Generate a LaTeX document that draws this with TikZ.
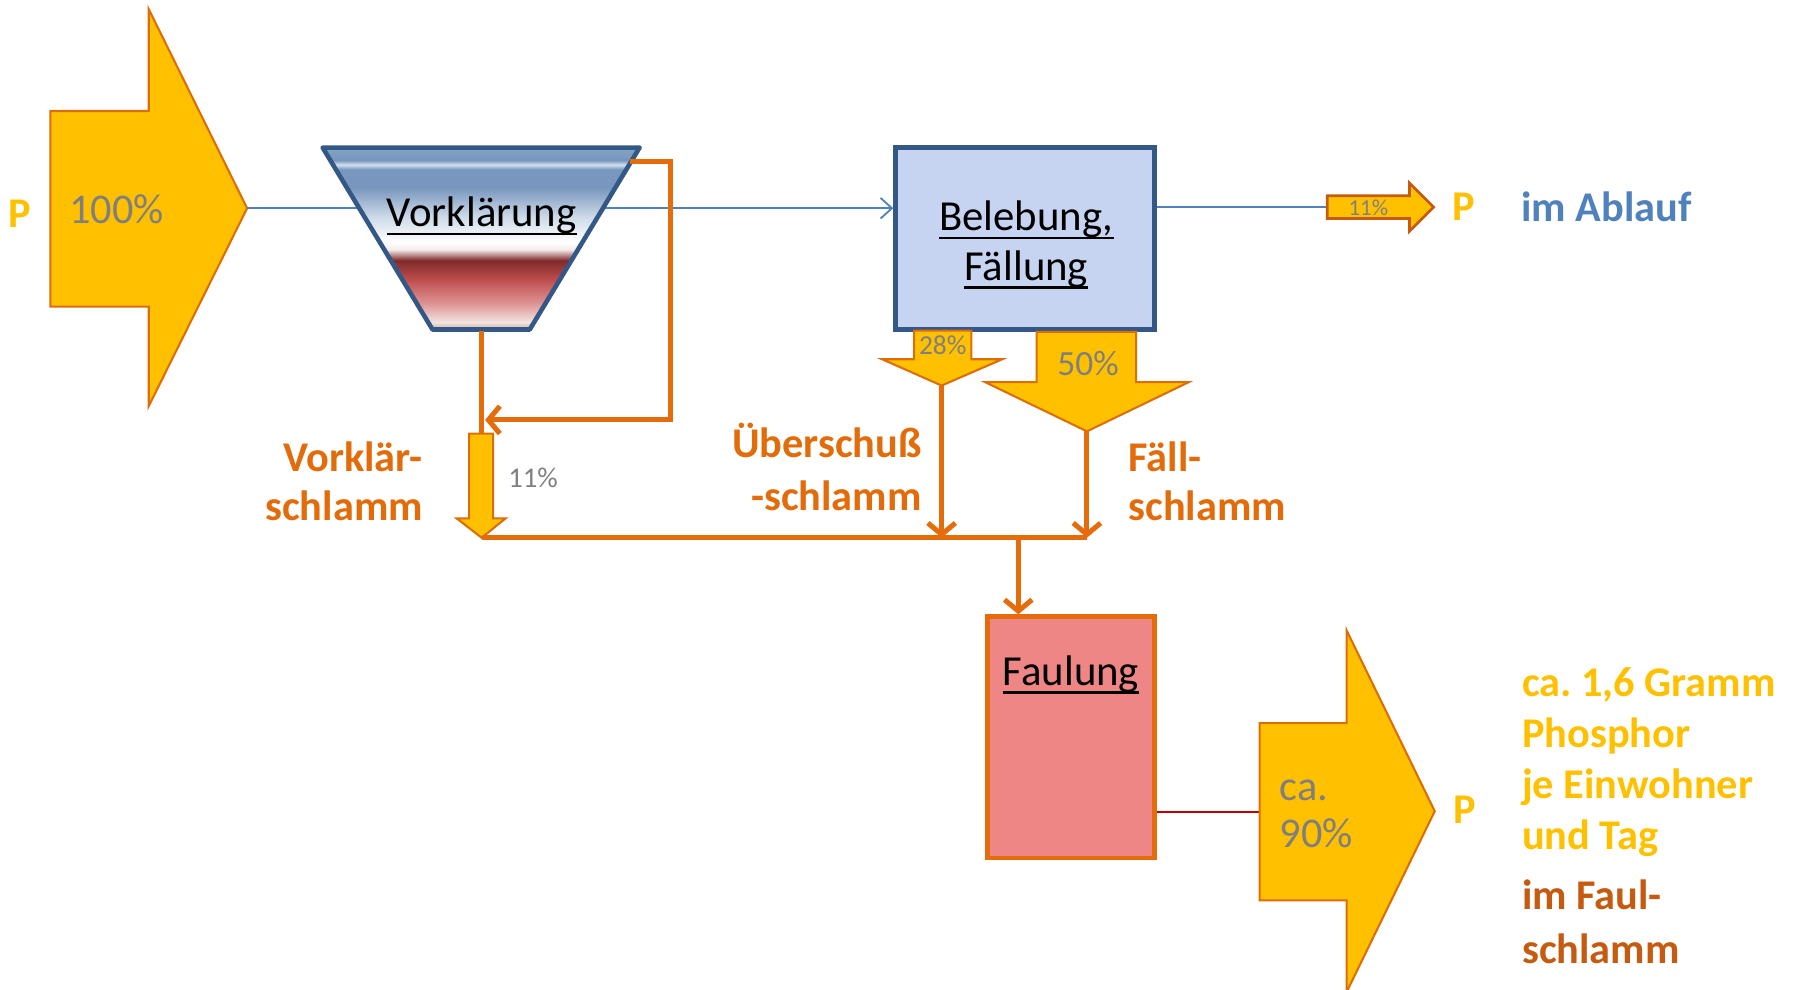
\documentclass[tikz,border=0pt]{standalone}
\usepackage{fontspec}
\setmainfont{Carlito}
\usetikzlibrary{positioning,arrows.meta}
\frenchspacing

\definecolor{pgold}{RGB}{255,192,0}
\definecolor{porange}{RGB}{228,108,10}
\definecolor{plabel}{RGB}{226,107,10}
\definecolor{pdark}{RGB}{197,90,17}
\definecolor{pgray}{RGB}{127,127,127}
\definecolor{pblue}{RGB}{79,129,189}
\definecolor{pframe}{RGB}{52,88,134}
\definecolor{pbele}{RGB}{198,212,242}
\definecolor{pfaul}{RGB}{238,134,134}
\definecolor{pred}{RGB}{192,0,0}
\definecolor{pedge}{RGB}{220,110,10}
% Farben fuer das Vorklaerbecken
\definecolor{kA}{RGB}{200,170,160}
\definecolor{kB}{RGB}{242,228,224}
\definecolor{kC}{RGB}{222,150,150}
\definecolor{kD}{RGB}{192,80,80}
\definecolor{kE}{RGB}{128,42,42}
\definecolor{kF}{RGB}{245,236,236}
\definecolor{kG}{RGB}{205,218,232}
\definecolor{kH}{RGB}{120,150,190}
\definecolor{kI}{RGB}{210,225,240}
\definecolor{kJ}{RGB}{130,165,195}

\pgfdeclareverticalshading{klaer}{100bp}{color(0bp)=(kA); color(25bp)=(kA);
  color(27bp)=(kB); color(32bp)=(kC); color(38.5bp)=(kD); color(44bp)=(kE);
  color(47bp)=(kF); color(49bp)=(white); color(56bp)=(kG); color(64bp)=(kH);
  color(69bp)=(kH); color(70.3bp)=(kI); color(71.5bp)=(kH); color(75bp)=(kJ);
  color(100bp)=(kJ)}

\newcommand{\ulword}[1]{\setbox0\hbox{#1}\rlap{\rule[-3.7pt]{\wd0}{1.2pt}}\box0}

\begin{document}
\begin{tikzpicture}[x=0.5pt,y=-0.5pt,
    blockarrow/.style={fill=pgold,draw=pedge,line width=0.9pt,line join=miter},
    water/.style={draw=pblue,line width=0.8pt},
    sludge/.style={draw=porange,line width=2.2pt},
    sludgetip/.style={sludge,-{Straight Barb[length=5pt,width=12pt]}},
    pct/.style={text=pgray,inner sep=0pt},
    ptag/.style={text=pgold,font=\bfseries\fontsize{18.5}{18.5}\selectfont,inner sep=0pt},
    orlabel/.style={text=plabel,font=\bfseries\fontsize{18.5}{21.5}\selectfont,inner sep=0pt},
    title/.style={font=\fontsize{18.7}{21.5}\selectfont,inner sep=0pt}]

    \useasboundingbox (0,0) rectangle (1568,865);

    % Zulauf
    \path[blockarrow] (44,97) -- (130,97) -- (130,8) -- (216,182) -- (130,355) -- (130,268) -- (44,268) -- cycle;
    \coordinate (zulauf) at (216,182);
    \node[pct,font=\fontsize{18.5}{18.5}\selectfont] (pzu) at (102,183) {100\%};
    \node[ptag] (pin) at (17,187) {P};

    % Belebung
    \node[draw=pframe,fill=pbele,line width=2.2pt,minimum width=113pt,minimum height=79.5pt] (bel) at (896,208.5) {};
    \node[title,align=center] (beltxt) at (897,214) {\ulword{Belebung,}\\\ulword{Fällung}};
    \draw[water,-{Straight Barb[length=5pt,width=9pt]}] (zulauf) -- (zulauf -| bel.west);

    % Vorklaerung
    \shadedraw[shading=klaer,draw=pframe,line width=2pt,line join=round]
        (282,129) -- (559,129) -- (463,288) -- (378,288) -- cycle;
    \node[title] (vk) at (421,189) {\ulword{Vorklärung}};
    \coordinate (vkbot) at (421,289);
    \coordinate (vkrand) at (551,141);
    \coordinate (vkret) at (424,367);
    \coordinate (vkdown) at (421,379);
    \draw[sludgetip] (vkrand) -- ++(35,0) |- (vkret);
    \draw[sludge] (vkbot) -- (vkdown);

    % Vorklaerschlamm
    \path[blockarrow] (410,379) -- (431,379) -- (431,453) -- (442,453) -- (421,470) -- (399,453) -- (410,453) -- cycle;
    \coordinate (vks) at (421,470);
    \node[pct,font=\fontsize{12.5}{12.5}\selectfont] (p11a) at (466,418) {11\%};
    \node[orlabel,align=right,anchor=east] (vkl) at (370,421) {Vorklär-\\schlamm};

    % Sammelleitung
    \coordinate (sammel) at (950,470);
    \draw[sludge] (vks) -- (sammel);

    % Ueberschussschlamm
    \path[blockarrow] (799,289) -- (849,289) -- (849,314) -- (876,314) -- (823,337) -- (771,314) -- (799,314) -- cycle;
    \coordinate (ues) at (823,337);
    \node[pct,font=\fontsize{12}{12}\selectfont] (p28) at (824,302) {28\%};
    \draw[sludgetip] (ues) -- (ues |- sammel);
    \node[orlabel,align=right,anchor=east,font=\bfseries\fontsize{18.5}{23}\selectfont] (uel) at (806,408) {Überschuß\\-schlamm};

    % Faellschlamm
    \path[blockarrow] (906,290) -- (993,290) -- (993,334) -- (1039,334) -- (950,377) -- (861,334) -- (906,334) -- cycle;
    \coordinate (fs) at (950,377);
    \node[pct,font=\fontsize{15.5}{15.5}\selectfont] (p50) at (951,318) {50\%};
    \draw[sludgetip] (fs) -- (fs |- sammel);
    \node[orlabel,align=left,anchor=west] (fl) at (986,421) {Fäll-\\schlamm};

    % Faulung
    \node[draw=porange,fill=pfaul,line width=2pt,minimum width=73pt,minimum height=105.5pt] (faul) at (936,644.5) {};
    \node[title] (fltxt) at (936,590) {\ulword{Faulung}};
    \coordinate (zufaul) at (890,470);
    \draw[sludgetip] (zufaul) -- (zufaul |- faul.north);

    % Faulschlamm
    \coordinate (fa) at (1101,710);
    \draw[draw=pred,line width=1pt] (faul.east |- fa) -- (fa);
    \path[blockarrow] (1101,632) -- (1177,632) -- (1177,551) -- (1254,709) -- (1177,867) -- (1177,787) -- (1101,787) -- cycle;
    \node[pct,align=left,anchor=west,font=\fontsize{18.5}{20.5}\selectfont] (p90) at (1118,711) {ca.\\90\%};
    \node[ptag] (pout) at (1280,708) {P};
    \node[ptag,align=left,anchor=west,font=\bfseries\fontsize{18.5}{22.25}\selectfont] (menge) at (1330,666)
        {ca. 1,6 Gramm\\Phosphor\\je Einwohner\\und Tag};
    \node[orlabel,text=pdark,align=left,anchor=west,font=\bfseries\fontsize{18.5}{23.5}\selectfont] (fsl) at (1330,806)
        {im Faul-\\schlamm};

    % Ablauf
    \coordinate (ablauf) at (1160,181);
    \draw[water] (ablauf -| bel.east) -- (ablauf);
    \path[blockarrow,draw=pdark,line width=1.2pt] (1160,171) -- (1232,171) -- (1232,160) -- (1253,181) -- (1232,202) -- (1232,191) -- (1160,191) -- cycle;
    \node[pct,font=\fontsize{10}{10}\selectfont] (p11b) at (1196,182) {11\%};
    \node[ptag] (ptop) at (1279,181) {P};
    \node[ptag,text=pblue] (abl) [right=20pt of ptop] {im Ablauf};

\end{tikzpicture}
\end{document}
